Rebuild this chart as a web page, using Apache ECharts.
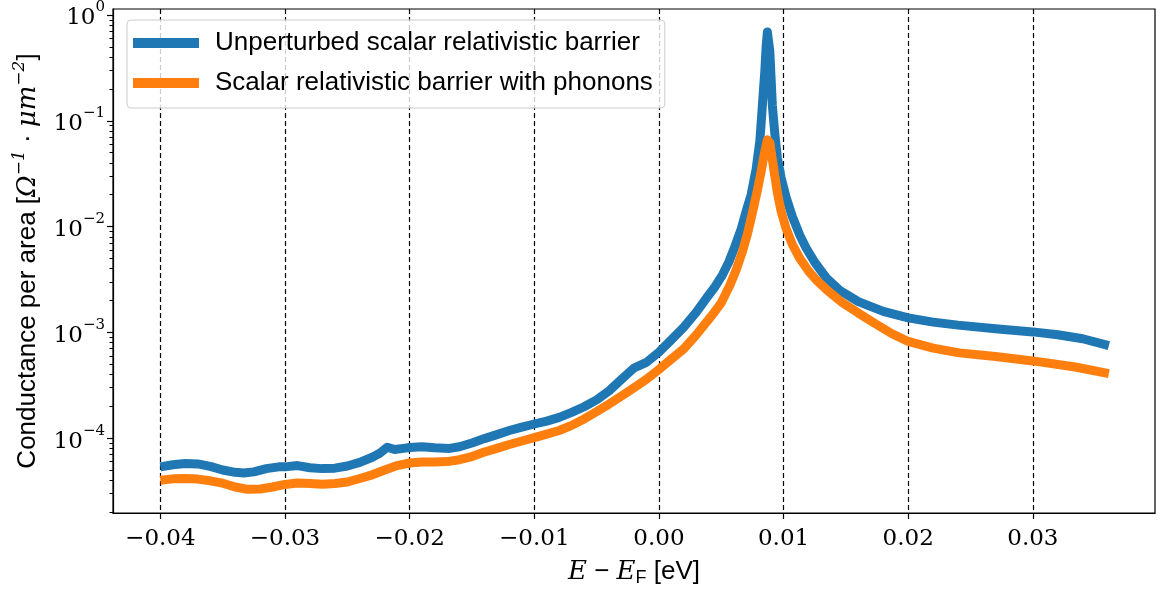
<!DOCTYPE html>
<html>
<head>
<meta charset="utf-8">
<script src="https://cdn.jsdelivr.net/npm/echarts@6/dist/echarts.min.js"></script>
<style>
  html, body { margin: 0; padding: 0; background: #fff; }
  #chart { width: 1158px; height: 592px; }
</style>
</head>
<body>
<div id="chart"></div>
<script>
// Energy relative to the Fermi level (eV) and conductance per area (Ohm^-1 um^-2)
const energyUnperturbed = [
  -0.0400, -0.0390, -0.0380, -0.0370, -0.0360, -0.0350, -0.0340, -0.0333, -0.0325, -0.0315,
  -0.0305, -0.0300, -0.0290, -0.0280, -0.0270, -0.0260, -0.0250, -0.0240, -0.0230, -0.0224,
  -0.0218, -0.0212, -0.0205, -0.0200, -0.0190, -0.0180, -0.0168, -0.0160, -0.0150, -0.0140,
  -0.0130, -0.0120, -0.0110, -0.0100, -0.0090, -0.0080, -0.0070, -0.0060, -0.0050, -0.0040,
  -0.0030, -0.0020, -0.0010, 0.0000, 0.0010, 0.0020, 0.0030, 0.0038, 0.0045, 0.0051,
  0.0056, 0.0061, 0.0066, 0.0070, 0.0074, 0.0078, 0.0081, 0.0083, 0.0085, 0.0086,
  0.0087, 0.0088, 0.0089, 0.0090, 0.0091, 0.0093, 0.0095, 0.0098, 0.0102, 0.0107,
  0.0113, 0.0118, 0.0125, 0.0134, 0.0145, 0.0160, 0.0180, 0.0200, 0.0220, 0.0240,
  0.0270, 0.0300, 0.0320, 0.0340, 0.0361
];
const conductanceUnperturbed = [
  5.35e-5, 5.6e-5, 5.75e-5, 5.7e-5, 5.4e-5, 5.0e-5, 4.75e-5, 4.68e-5, 4.8e-5, 5.15e-5,
  5.35e-5, 5.35e-5, 5.5e-5, 5.25e-5, 5.15e-5, 5.2e-5, 5.45e-5, 5.9e-5, 6.6e-5, 7.2e-5,
  8.2e-5, 7.8e-5, 8.0e-5, 8.15e-5, 8.3e-5, 8.1e-5, 8.0e-5, 8.3e-5, 9.0e-5, 9.9e-5,
  1.08e-4, 1.18e-4, 1.27e-4, 1.36e-4, 1.45e-4, 1.57e-4, 1.75e-4, 1.98e-4, 2.3e-4, 2.8e-4,
  3.6e-4, 4.6e-4, 5.2e-4, 6.5e-4, 8.5e-4, 1.12e-3, 1.55e-3, 2.1e-3, 2.7e-3, 3.5e-3,
  4.6e-3, 6.5e-3, 9.5e-3, 1.4e-2, 2.0e-2, 3.5e-2, 6.5e-2, 0.14, 0.30, 0.50,
  0.69, 0.70, 0.45, 0.25, 0.14, 0.075, 0.045, 0.029, 0.019, 0.0125,
  8.3e-3, 6.3e-3, 4.6e-3, 3.3e-3, 2.5e-3, 1.95e-3, 1.58e-3, 1.37e-3, 1.25e-3, 1.17e-3,
  1.08e-3, 1.01e-3, 9.5e-4, 8.7e-4, 7.5e-4
];
const energyPhonons = [
  -0.0400, -0.0390, -0.0380, -0.0370, -0.0360, -0.0350, -0.0340, -0.0330, -0.0320, -0.0310,
  -0.0300, -0.0290, -0.0280, -0.0270, -0.0260, -0.0250, -0.0240, -0.0230, -0.0220, -0.0210,
  -0.0200, -0.0190, -0.0180, -0.0170, -0.0160, -0.0150, -0.0140, -0.0130, -0.0120, -0.0110,
  -0.0100, -0.0090, -0.0080, -0.0070, -0.0060, -0.0050, -0.0040, -0.0030, -0.0020, -0.0010,
  0.0000, 0.0010, 0.0020, 0.0030, 0.0043, 0.0050, 0.0057, 0.0062, 0.0067, 0.0071,
  0.0075, 0.0079, 0.0082, 0.0084, 0.0086, 0.0087, 0.0088, 0.0089, 0.0091, 0.0093,
  0.0095, 0.0098, 0.0102, 0.0107, 0.0113, 0.0120, 0.0126, 0.0135, 0.0147, 0.0160,
  0.0174, 0.0187, 0.0200, 0.0220, 0.0241, 0.0270, 0.0300, 0.0334, 0.0361
];
const conductancePhonons = [
  4.0e-5, 4.12e-5, 4.15e-5, 4.1e-5, 3.95e-5, 3.75e-5, 3.45e-5, 3.28e-5, 3.3e-5, 3.45e-5,
  3.65e-5, 3.76e-5, 3.72e-5, 3.67e-5, 3.72e-5, 3.85e-5, 4.15e-5, 4.5e-5, 5.0e-5, 5.5e-5,
  5.82e-5, 5.95e-5, 5.95e-5, 6.0e-5, 6.25e-5, 6.7e-5, 7.4e-5, 8.0e-5, 8.7e-5, 9.4e-5,
  1.01e-4, 1.09e-4, 1.18e-4, 1.32e-4, 1.52e-4, 1.78e-4, 2.1e-4, 2.5e-4, 3.0e-4, 3.6e-4,
  4.45e-4, 5.6e-4, 7.0e-4, 9.5e-4, 1.47e-3, 1.9e-3, 2.8e-3, 3.9e-3, 5.8e-3, 8.5e-3,
  1.35e-2, 2.2e-2, 3.3e-2, 4.5e-2, 5.9e-2, 6.6e-2, 6.8e-2, 6.2e-2, 4.3e-2, 3.0e-2,
  2.1e-2, 1.4e-2, 9.6e-3, 6.8e-3, 5.0e-3, 3.8e-3, 3.15e-3, 2.5e-3, 1.92e-3, 1.52e-3,
  1.2e-3, 9.7e-4, 8.2e-4, 7.1e-4, 6.4e-4, 5.9e-4, 5.37e-4, 4.7e-4, 4.07e-4
];

const seriesNames = ['Unperturbed scalar relativistic barrier', 'Scalar relativistic barrier with phonons'];
const xTickValues = [-0.04, -0.03, -0.02, -0.01, 0.00, 0.01, 0.02, 0.03];
const yDecadeValues = [1e-4, 1e-3, 1e-2, 1e-1, 1];

// Axis extents
const xMin = -0.0438, xMax = 0.0398;
const yMin = 1.96e-5, yMax = 1.14;

// Minor log ticks: 2..9 x 10^k inside the range
const yMinorValues = [];
for (let k = -5; k <= 0; k++) {
  for (let m = 2; m <= 9; m++) {
    const v = m * Math.pow(10, k);
    if (v >= yMin && v <= yMax) yMinorValues.push(v);
  }
}

const toPairs = (xs, ys) => xs.map((x, i) => [x, ys[i]]);
const sup = n => (n < 0 ? '\u2212' + (-n) : String(n));

const serif = 'DejaVu Serif';
const sans = 'Liberation Sans';

const chart = echarts.init(document.getElementById('chart'), null, { renderer: 'canvas' });

chart.setOption({
  animation: false,
  backgroundColor: '#fff',
  color: ['#1f77b4', '#ff7f0e'],
  grid: {
    left: 113, right: 3, top: 6, bottom: 79,
    show: true, borderColor: '#000', borderWidth: 1.2, backgroundColor: 'transparent'
  },
  legend: {
    orient: 'vertical',
    left: 127, top: 20,
    padding: [8, 12, 10, 6],
    itemGap: 10,
    itemWidth: 66, itemHeight: 10,
    icon: 'rect',
    backgroundColor: 'rgba(255,255,255,0.8)',
    borderColor: '#cccccc', borderWidth: 1, borderRadius: 4,
    textStyle: { fontFamily: sans, fontSize: 26, color: '#000', lineHeight: 30, padding: [0, 0, 0, 11] },
    data: seriesNames
  },
  xAxis: {
    type: 'value',
    min: xMin, max: xMax,
    axisLine: { show: true, onZero: false, lineStyle: { color: '#000', width: 1.2 } },
    axisTick: { show: true, customValues: xTickValues, length: 6, lineStyle: { color: '#000', width: 1.2 } },
    axisLabel: {
      customValues: xTickValues,
      formatter: v => (v < -1e-9 ? '\u2212' : '') + Math.abs(v).toFixed(2),
      fontFamily: serif, fontSize: 23, color: '#000', margin: 15
    },
    splitLine: { show: true, lineStyle: { color: '#000', width: 1.2, type: [5, 3] } },
    name: '{m|E}{a| \u2212 }{m|E}{f|F}{a| [eV]}',
    nameLocation: 'middle',
    nameGap: 44,
    nameTextStyle: {
      color: '#000',
      rich: {
        m: { fontFamily: serif, fontStyle: 'italic', fontSize: 26, color: '#000', lineHeight: 30 },
        a: { fontFamily: sans, fontSize: 26, color: '#000', lineHeight: 30 },
        f: { fontFamily: sans, fontSize: 18, color: '#000', lineHeight: 14, verticalAlign: 'bottom' }
      }
    }
  },
  yAxis: [
    {
      type: 'log', logBase: 10,
      min: yMin, max: yMax,
      axisLine: { show: true, onZero: false, lineStyle: { color: '#000', width: 1.2 } },
      axisTick: { show: true, customValues: yDecadeValues, length: 6, lineStyle: { color: '#000', width: 1.2 } },
      axisLabel: {
        customValues: yDecadeValues,
        formatter: v => '{b|10}{s|' + sup(Math.round(Math.log10(v))) + '}',
        margin: 8,
        rich: {
          b: { fontFamily: serif, fontSize: 23, color: '#000', lineHeight: 30, verticalAlign: 'bottom' },
          s: { fontFamily: serif, fontSize: 15, color: '#000', lineHeight: 16, verticalAlign: 'top' }
        }
      },
      splitLine: { show: false },
      name: '{a|Conductance per area [}{m|\u03A9}{s|\u22121}{a| \u00B7 }{m|\u03BCm}{s|\u22122}{a|]}',
      nameLocation: 'middle',
      nameRotate: 90,
      nameGap: 72,
      nameTextStyle: {
        color: '#000',
        rich: {
          a: { fontFamily: sans, fontSize: 26, color: '#000', lineHeight: 30, verticalAlign: 'bottom' },
          m: { fontFamily: serif, fontStyle: 'italic', fontSize: 26, color: '#000', lineHeight: 30, verticalAlign: 'bottom' },
          s: { fontFamily: serif, fontStyle: 'italic', fontSize: 17, color: '#000', lineHeight: 16, verticalAlign: 'top' }
        }
      }
    },
    {
      type: 'log', logBase: 10,
      min: yMin, max: yMax,
      position: 'left',
      axisLine: { show: false, onZero: false },
      axisTick: { show: true, customValues: yMinorValues, length: 3.5, lineStyle: { color: '#000', width: 1 } },
      axisLabel: { show: false },
      splitLine: { show: false }
    }
  ],
  series: [
    {
      name: seriesNames[0],
      type: 'line',
      data: toPairs(energyUnperturbed, conductanceUnperturbed),
      showSymbol: false, symbol: 'none',
      smooth: false,
      lineStyle: { width: 9, color: '#1f77b4', join: 'round', cap: 'butt' },
      z: 3
    },
    {
      name: seriesNames[1],
      type: 'line',
      data: toPairs(energyPhonons, conductancePhonons),
      showSymbol: false, symbol: 'none',
      smooth: false,
      lineStyle: { width: 9, color: '#ff7f0e', join: 'round', cap: 'butt' },
      z: 4
    }
  ]
});
</script>
</body>
</html>
